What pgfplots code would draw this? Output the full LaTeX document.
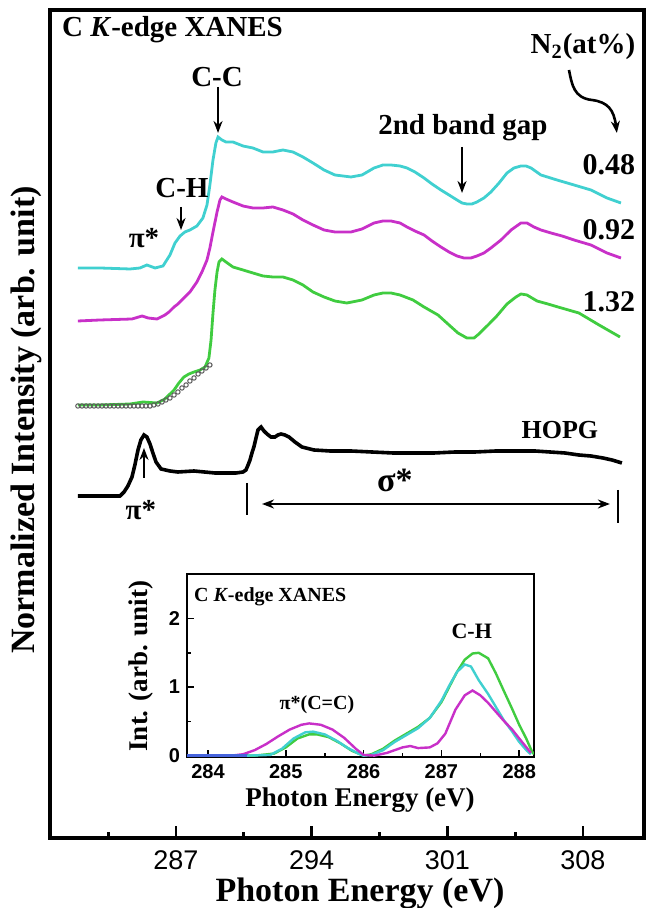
\documentclass[border=0pt]{standalone}
\usepackage{pgfplots}
\pgfplotsset{compat=1.18}
\usepackage{fontspec}
\setmainfont{Liberation Serif}
\setsansfont{Liberation Sans}
\usetikzlibrary{arrows.meta}
\definecolor{cyn}{RGB}{64,208,208}
\definecolor{mag}{RGB}{200,48,200}
\definecolor{grn}{RGB}{64,204,64}
\definecolor{blu}{RGB}{70,100,220}
\definecolor{fitgray}{RGB}{90,90,90}
\newcommand\fs[1]{\fontsize{#1}{#1}\selectfont}
\tikzset{arr/.style={-{Stealth[length=6pt,width=4.5pt]}, line width=1pt}}

\begin{document}
\begin{tikzpicture}
\useasboundingbox (-25pt,-35pt) rectangle (299pt,419pt);
% ---------------- main panel: C K-edge spectra (offset for clarity) ----------------
\begin{axis}[
  at={(0pt,0pt)}, anchor=south west,
  scale only axis, width=297pt, height=414pt,
  xmin=280.5, xmax=311.15, ymin=0, ymax=828,
  axis line style={line width=2pt},
  xtick={287,294,301,308},
  minor xtick={283.5,290.5,297.5,304.5},
  ytick=\empty,
  xtick pos=lower,
  tick align=inside,
  major tick length=6pt, minor tick length=3pt,
  tick style={line width=1.4pt, black},
  xticklabel style={font=\sffamily\fs{13.5}, yshift=-3pt},
  /pgf/number format/assume math mode=true,
  clip=false,
]
% N2 = 0.48 at%
\addplot[cyn, line width=1.4pt] coordinates {
(281.94,570) (283.08,570) (284.63,569) (285.14,570) (285.50,573) (285.92,570)
(286.33,572) (286.69,583) (286.95,595) (287.21,602) (287.46,606) (287.72,608)
(288.08,612) (288.39,620) (288.60,633) (288.75,653) (288.91,678) (289.06,695)
(289.17,701) (289.37,698) (289.58,696) (289.94,696) (290.46,692) (290.97,690)
(291.49,686) (292.00,686) (292.52,688) (293.04,686) (293.55,681) (294.07,675)
(294.64,668) (295.20,663) (296.03,661) (296.60,663) (297.22,670) (297.68,673)
(298.09,673) (298.56,672) (298.92,670) (299.33,666) (299.80,660) (300.21,654)
(300.67,648) (301.09,643) (301.50,638) (301.76,635) (302.01,634) (302.27,634)
(302.53,636) (302.89,640) (303.25,646) (303.67,655) (304.08,665) (304.44,670)
(304.80,672) (305.06,672) (305.32,670) (305.83,663) (306.66,658) (307.54,653)
(308.41,648) (309.24,640) (309.96,635)
};
% N2 = 0.92 at%
\addplot[mag, line width=1.4pt] coordinates {
(281.94,517) (283.08,518) (284.73,519) (285.25,522) (285.56,520) (286.02,519)
(286.43,523) (286.64,526) (286.90,531) (287.10,534) (287.41,540) (287.72,546)
(288.08,556) (288.34,566) (288.60,578) (288.75,590) (288.91,606) (289.12,626)
(289.27,638) (289.37,641) (289.58,639) (289.94,636) (290.46,632) (290.97,630)
(291.49,630) (292.00,631) (292.52,628) (293.04,624) (293.55,618) (294.07,613)
(294.64,608) (295.20,606) (296.03,606) (296.60,609) (297.22,615) (297.68,617)
(298.09,617) (298.56,615) (298.92,611) (299.33,607) (299.80,603) (300.21,597)
(300.67,591) (301.09,586) (301.50,582) (301.86,580) (302.22,580) (302.53,582)
(302.89,585) (303.25,590) (303.77,598) (304.29,608) (304.80,615) (305.11,615)
(305.47,611) (305.83,608) (306.35,605) (306.92,602) (307.54,598) (308.41,593)
(309.24,585) (309.96,580)
};
% N2 = 1.32 at%
\addplot[grn, line width=1.4pt] coordinates {
(281.94,433) (283.08,433) (284.63,434) (285.30,436) (286.02,435) (286.43,439)
(286.90,448) (287.15,455) (287.41,461) (287.67,464) (287.93,466) (288.24,468)
(288.50,471) (288.70,480) (288.81,498) (288.91,525) (289.01,548) (289.12,566)
(289.22,576) (289.37,579) (289.58,576) (289.94,571) (290.46,568) (290.97,565)
(291.49,562) (292.00,561) (292.52,561) (293.04,558) (293.55,553) (294.07,546)
(294.64,541) (295.20,537) (295.82,535) (296.60,538) (297.22,543) (297.68,545)
(298.09,545) (298.56,543) (299.23,538) (299.80,531) (300.52,523) (301.09,513)
(301.55,505) (302.01,500) (302.38,500) (302.63,504) (303.10,513) (303.51,521)
(304.08,534) (304.54,541) (304.80,544) (305.11,543) (305.63,537) (306.19,534)
(306.71,531) (307.79,525) (308.83,513) (309.91,501)
};
% edge-step fit of the pre-edge region
\addplot[fitgray, only marks, mark=o, mark size=1.1pt, mark options={line width=0.5pt}] coordinates {
(281.94,432) (282.15,432) (282.36,432) (282.56,432) (282.77,432) (282.98,432)
(283.18,432) (283.39,432) (283.59,432) (283.80,432) (284.01,432) (284.21,432)
(284.42,432) (284.63,432) (284.83,432) (285.04,432) (285.25,432) (285.45,432)
(285.66,432) (285.86,433) (286.07,434) (286.28,436) (286.48,438) (286.69,440)
(286.90,443) (287.10,446) (287.31,450) (287.52,453) (287.72,457) (287.93,460)
(288.14,464) (288.34,467) (288.55,470) (288.75,473)
};
% HOPG reference
\addplot[black, line width=1.8pt] coordinates {
(281.94,342) (283.08,342) (284.11,342) (284.32,346) (284.52,352) (284.73,361)
(284.88,373) (285.04,388) (285.19,398) (285.35,403) (285.50,401) (285.66,394)
(285.81,385) (285.97,376) (286.23,369) (286.69,367) (287.10,366) (287.93,367)
(289.01,365) (290.10,365) (290.46,366) (290.61,368) (290.72,373) (290.82,378)
(290.92,385) (291.02,391) (291.13,400) (291.23,408) (291.39,411) (291.54,407)
(291.70,404) (291.90,401) (292.11,401) (292.26,403) (292.42,404) (292.62,403)
(292.83,401) (293.14,396) (293.50,391) (294.12,388) (294.95,387) (296.03,387)
(297.11,386) (298.20,385) (299.23,385) (300.31,385) (301.40,386) (302.43,386)
(303.51,387) (304.60,387) (305.52,387) (306.30,386) (307.07,385) (307.79,383)
(308.41,382) (309.03,380) (309.50,378) (310.01,375)
};
% annotations
\node[font=\bfseries\fs{14.5}, anchor=west] at (axis cs:280.76,808) {C \textit{K}-edge XANES};
\node[font=\bfseries\fs{14.5}] at (axis cs:289.12,761) {C-C};
\draw[arr] (axis cs:289.17,751) -- (axis cs:289.17,705);
\node[font=\bfseries\fs{14.5}] at (axis cs:287.31,650) {C-H};
\draw[arr] (axis cs:287.26,631) -- (axis cs:287.26,608);
\node[font=\bfseries\fs{14.5}] at (axis cs:285.35,600) {π*};
\node[font=\bfseries\fs{14.5}] at (axis cs:308.0,791) {N\textsubscript{2}(at\%)};
\draw[arr, line width=1.3pt] (axis cs:307.28,768) .. controls (axis cs:307.43,753) and (axis cs:307.54,740) .. (axis cs:308.46,738)
  .. controls (axis cs:309.29,736) and (axis cs:309.60,728) .. (axis cs:309.75,705);
\node[font=\bfseries\fs{14.5}] at (axis cs:301.81,710) {2nd band gap};
\draw[arr] (axis cs:301.76,691) -- (axis cs:301.76,645);
\node[font=\bfseries\fs{15}] at (axis cs:309.34,673) {0.48};
\node[font=\bfseries\fs{15}] at (axis cs:309.34,608) {0.92};
\node[font=\bfseries\fs{15}] at (axis cs:309.34,536) {1.32};
\node[font=\bfseries\fs{13}] at (axis cs:306.81,408) {HOPG};
\draw[arr] (axis cs:285.35,360) -- (axis cs:285.35,390);
\node[font=\bfseries\fs{14.5}] at (axis cs:285.19,328) {π*};
\draw[line width=1pt] (axis cs:290.66,355) -- (axis cs:290.66,323);
\draw[line width=1pt] (axis cs:309.81,348) -- (axis cs:309.81,315);
\draw[{Stealth[length=6pt,width=4.5pt]}-{Stealth[length=6pt,width=4.5pt]}, line width=1pt]
  (axis cs:291.44,334) -- (axis cs:309.39,334);
\node[font=\bfseries\fs{17}] at (axis cs:298.30,358) {σ*};
\end{axis}
\node[font=\bfseries\fs{17}] at (155pt,-27.5pt) {Photon Energy (eV)};
\node[font=\bfseries\fs{17}, rotate=90] at (-12pt,209pt) {Normalized Intensity (arb. unit)};
% ---------------- inset: pre-edge components ----------------
\begin{axis}[
  at={(68.5pt,40.5pt)}, anchor=south west,
  scale only axis, width=173.5pt, height=91.5pt,
  xmin=283.73, xmax=288.19, ymin=-0.02, ymax=2.65,
  axis line style={line width=1.2pt},
  xtick={284,285,286,287,288}, ytick={0,1,2},
  minor xtick={284.5,285.5,286.5,287.5}, minor ytick={0.5,1.5},
  xtick pos=lower, ytick pos=left, tick align=inside,
  major tick length=3.5pt, minor tick length=2pt,
  tick style={line width=0.8pt, black},
  ticklabel style={font=\sffamily\bfseries\fs{10}},
  /pgf/number format/assume math mode=true,
  axis background/.style={fill=white},
]
\addplot[grn, line width=1.2pt] coordinates {
(283.73,0) (284.6,0) (284.85,0.03) (285.0,0.12) (285.15,0.25) (285.3,0.31) (285.4,0.31)
(285.55,0.27) (285.7,0.18) (285.85,0.07) (286.0,0) (286.1,0.02) (286.25,0.1) (286.4,0.22)
(286.55,0.32) (286.7,0.42) (286.85,0.55) (287.0,0.78) (287.1,1.0) (287.2,1.22) (287.3,1.4)
(287.4,1.49) (287.48,1.5) (287.6,1.42) (287.7,1.2) (287.8,0.95) (287.91,0.68) (288.0,0.45)
(288.09,0.25) (288.16,0.07) (288.19,0.02)
};
\addplot[cyn, line width=1.2pt] coordinates {
(283.73,0) (284.5,0) (284.8,0.01) (284.95,0.1) (285.1,0.25) (285.25,0.34) (285.35,0.35)
(285.5,0.31) (285.65,0.22) (285.8,0.11) (285.95,0.02) (286.0,0) (286.1,0.01) (286.25,0.08)
(286.4,0.2) (286.55,0.3) (286.7,0.4) (286.85,0.55) (287.0,0.8) (287.1,1.02) (287.2,1.22)
(287.3,1.33) (287.38,1.3) (287.48,1.1) (287.6,0.9) (287.7,0.71) (287.8,0.52) (287.91,0.35)
(288.0,0.2) (288.1,0.07) (288.15,0.02)
};
\addplot[mag, line width=1.2pt] coordinates {
(283.73,0) (284.3,0) (284.45,0.02) (284.6,0.08) (284.75,0.17) (284.9,0.28) (285.05,0.38)
(285.2,0.45) (285.3,0.47) (285.45,0.45) (285.6,0.38) (285.75,0.26) (285.9,0.1) (286.0,0.01)
(286.14,0) (286.3,0.04) (286.5,0.12) (286.6,0.14) (286.7,0.11) (286.85,0.12) (286.95,0.18)
(287.05,0.32) (287.18,0.67) (287.3,0.88) (287.4,0.95) (287.5,0.88) (287.6,0.77) (287.7,0.64)
(287.8,0.51) (287.91,0.38) (288.0,0.25) (288.1,0.11) (288.15,0.04)
};
\addplot[blu, line width=1.4pt] coordinates {(283.73,0) (284.5,0)};
\node[font=\bfseries\fs{10}, anchor=west] at (rel axis cs:0.0,0.876) {C \textit{K}-edge XANES};
\node[font=\bfseries\fs{11}] at (axis cs:287.39,1.81) {C-H};
\node[font=\bfseries\fs{10}] at (axis cs:285.4,0.75) {π*(C=C)};
\end{axis}
\node[font=\bfseries\fs{13.5}] at (155pt,19pt) {Photon Energy (eV)};
\node[font=\bfseries\fs{13.5}, rotate=90] at (45.5pt,86pt) {Int. (arb. unit)};
\end{tikzpicture}
\end{document}
